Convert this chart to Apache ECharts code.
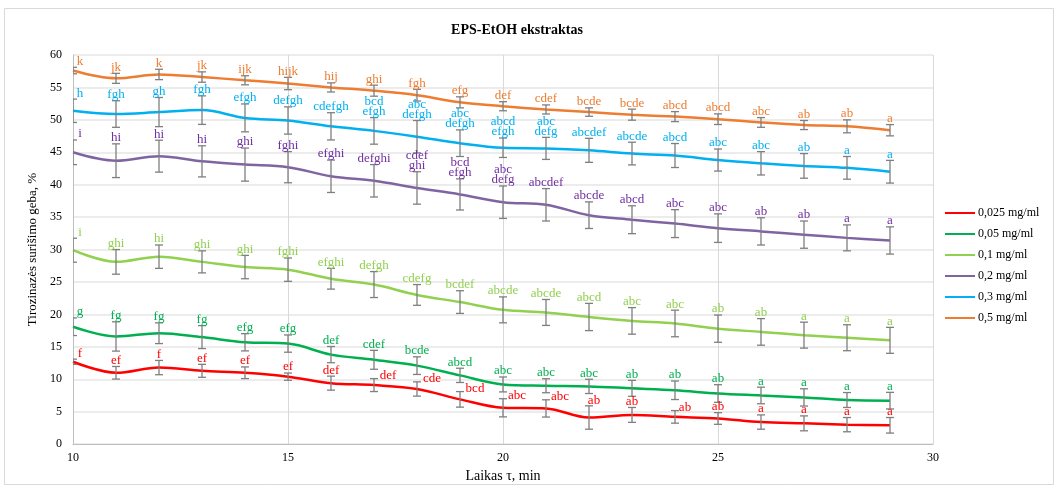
<!DOCTYPE html>
<html>
<head>
<meta charset="utf-8">
<script src="https://cdn.jsdelivr.net/npm/echarts@6/dist/echarts.min.js"></script>
<style>
  html, body { margin: 0; padding: 0; background: #fff; }
  #chart { width: 1058px; height: 488px; }
</style>
</head>
<body>
<div id="chart"></div>
<script>
// Time points (min)
const times = [10, 11, 12, 13, 14, 15, 16, 17, 18, 19, 20, 21, 22, 23, 24, 25, 26, 27, 28, 29];

// Series names (concentrations)
const seriesNames = ['0,025 mg/ml', '0,05 mg/ml', '0,1 mg/ml', '0,2 mg/ml', '0,3 mg/ml', '0,5 mg/ml'];

// Mean binding capacity, %
const c025 = [12.7, 11.0, 11.8, 11.3, 11.0, 10.4, 9.4, 9.1, 8.5, 6.9, 5.6, 5.5, 4.1, 4.5, 4.2, 3.95, 3.4, 3.2, 3.0, 2.9];
const c05  = [18.1, 16.6, 17.1, 16.5, 15.7, 15.5, 13.8, 13.0, 12.1, 10.6, 9.2, 9.0, 8.9, 8.6, 8.3, 7.8, 7.5, 7.2, 6.8, 6.7];
const c1   = [29.9, 28.1, 28.9, 28.1, 27.3, 26.9, 25.5, 24.6, 23.0, 21.9, 20.7, 20.3, 19.6, 19.0, 18.6, 17.8, 17.3, 16.8, 16.4, 16.0];
const c2   = [45.0, 43.7, 44.4, 43.6, 43.1, 42.7, 41.3, 40.6, 39.5, 38.5, 37.3, 36.9, 35.3, 34.6, 34.0, 33.3, 32.8, 32.3, 31.8, 31.4];
const c3   = [51.4, 50.9, 51.2, 51.5, 50.3, 49.9, 49.0, 48.3, 47.4, 46.4, 45.7, 45.6, 45.3, 44.8, 44.5, 43.8, 43.3, 42.9, 42.6, 42.0];
const c5   = [57.6, 56.4, 57.0, 56.6, 56.1, 55.6, 55.0, 54.5, 53.8, 52.7, 52.1, 51.6, 51.2, 50.8, 50.5, 50.1, 49.6, 49.2, 49.0, 48.4];

// Standard deviations (±)
const e025 = [0.4, 0.97, 1.1, 1.0, 0.9, 0.56, 1.08, 1.0, 1.1, 1.2, 1.4, 1.33, 1.8, 1.15, 0.97, 0.9, 1.1, 1.15, 1.1, 1.2];
const e05  = [1.36, 2.26, 1.6, 1.77, 1.33, 1.33, 1.25, 1.46, 1.36, 1.1, 1.15, 1.08, 1.1, 1.23, 1.43, 1.36, 1.28, 1.33, 1.15, 1.28];
const e1   = [1.85, 1.9, 1.8, 1.7, 1.8, 1.8, 1.6, 2.0, 1.6, 1.75, 2.0, 2.0, 2.1, 2.05, 2.05, 2.1, 2.05, 2.0, 2.0, 2.0];
const e2   = [1.9, 2.6, 2.46, 2.4, 2.55, 2.4, 2.5, 2.5, 2.5, 2.4, 2.5, 2.5, 2.05, 2.15, 2.15, 2.2, 2.1, 2.1, 2.0, 2.1];
const e3   = [1.8, 2.05, 2.25, 2.2, 2.15, 2.1, 2.1, 2.05, 2.5, 2.05, 1.5, 1.7, 1.85, 1.75, 1.85, 1.7, 1.8, 1.9, 1.75, 1.75];
const e5   = [0.5, 0.77, 0.8, 0.8, 0.7, 0.95, 0.7, 0.85, 0.9, 0.85, 0.7, 0.7, 0.65, 0.85, 0.77, 0.82, 0.75, 0.7, 1.0, 0.87];

// Significance letters
const g025 = ['f', 'ef', 'f', 'ef', 'ef', 'ef', 'def', 'def', 'cde', 'bcd', 'abc', 'abc', 'ab', 'ab', 'ab', 'ab', 'a', 'a', 'a', 'a'];
const g05  = ['g', 'fg', 'fg', 'fg', 'efg', 'efg', 'def', 'cdef', 'bcde', 'abcd', 'abc', 'abc', 'abc', 'ab', 'ab', 'ab', 'a', 'a', 'a', 'a'];
const g1   = ['i', 'ghi', 'hi', 'ghi', 'ghi', 'fghi', 'efghi', 'defgh', 'cdefg', 'bcdef', 'abcde', 'abcde', 'abcd', 'abc', 'abc', 'ab', 'ab', 'a', 'a', 'a'];
const g2   = ['i', 'hi', 'hi', 'hi', 'ghi', 'fghi', 'efghi', 'defghi', 'cdef\nghi', 'bcd\nefgh', 'abc\ndefg', 'abcdef', 'abcde', 'abcd', 'abc', 'abc', 'ab', 'ab', 'a', 'a'];
const g3   = ['h', 'fgh', 'gh', 'fgh', 'efgh', 'defgh', 'cdefgh', 'bcd\nefgh', 'abc\ndefgh', 'abc\ndefgh', 'abcd\nefgh', 'abc\ndefg', 'abcdef', 'abcde', 'abcd', 'abc', 'abc', 'ab', 'a', 'a'];
const g5   = ['k', 'jk', 'k', 'jk', 'ijk', 'hijk', 'hij', 'ghi', 'fgh', 'efg', 'def', 'cdef', 'bcde', 'bcde', 'abcd', 'abcd', 'abc', 'ab', 'ab', 'a'];

// Axis ranges
const yMin = 0, yMax = 60, yStep = 5;
const xMin = 10, xMax = 30, xStep = 5;

const FONT = "'Liberation Serif', 'Times New Roman', serif";

const groups = [
  { name: seriesNames[0], vals: c025, errs: e025, letters: g025, line: '#ff0000', text: '#ff0000' },
  { name: seriesNames[1], vals: c05,  errs: e05,  letters: g05,  line: '#00b050', text: '#00b050' },
  { name: seriesNames[2], vals: c1,   errs: e1,   letters: g1,   line: '#92d050', text: '#92d050' },
  { name: seriesNames[3], vals: c2,   errs: e2,   letters: g2,   line: '#8064a2', text: '#7030a0' },
  { name: seriesNames[4], vals: c3,   errs: e3,   letters: g3,   line: '#00b0f0', text: '#00b0f0' },
  { name: seriesNames[5], vals: c5,   errs: e5,   letters: g5,   line: '#ed7d31', text: '#ed7d31' }
];

// Per-label pixel nudges [dx, dy] for letters placed beside their bars
const labelNudge = {
  0: { 7: [14, 3], 8: [15, 3], 9: [15, 3], 10: [14, 3], 11: [14, 3], 12: [5, 1], 14: [10, 3] }
};
const firstPointShift = 7;

const series = [];
groups.forEach((g, gi) => {
  const pts = times.map((t, i) => [t, g.vals[i], g.errs[i]]);
  series.push({
    name: g.name,
    type: 'line',
    data: times.map((t, i) => [t, g.vals[i]]),
    smooth: 0.35,
    symbol: 'none',
    lineStyle: { color: g.line, width: 2.5 },
    itemStyle: { color: g.line },
    z: 3
  });
  // error bars
  series.push({
    type: 'custom',
    data: pts,
    clip: true,
    silent: true,
    z: 4,
    renderItem: (params, api) => {
      const x = api.value(0), y = api.value(1), e = api.value(2);
      const pt = api.coord([x, y + e]);
      const pb = api.coord([x, y - e]);
      const cap = 4;
      const st = { stroke: '#7f7f7f', lineWidth: 1.3 };
      return {
        type: 'group',
        children: [
          { type: 'line', shape: { x1: pt[0], y1: pt[1], x2: pb[0], y2: pb[1] }, style: st },
          { type: 'line', shape: { x1: pt[0] - cap, y1: pt[1], x2: pt[0] + cap, y2: pt[1] }, style: st },
          { type: 'line', shape: { x1: pb[0] - cap, y1: pb[1], x2: pb[0] + cap, y2: pb[1] }, style: st }
        ]
      };
    }
  });
  // significance letters above bars
  series.push({
    type: 'custom',
    data: pts,
    clip: false,
    silent: true,
    z: 5,
    renderItem: (params, api) => {
      const i = params.dataIndex;
      const x = api.value(0), y = api.value(1), e = api.value(2);
      const p = api.coord([x, y + e]);
      let dx = i === 0 ? firstPointShift : 0, dy = 0;
      const n = labelNudge[gi] && labelNudge[gi][i];
      if (n) { dx = n[0]; dy = n[1]; }
      return {
        type: 'text',
        x: p[0] + dx,
        y: p[1] - 1 + dy,
        style: {
          text: g.letters[i],
          fill: g.text,
          font: '13px ' + FONT,
          align: 'center',
          verticalAlign: 'bottom',
          lineHeight: 10
        }
      };
    }
  });
});

const chart = echarts.init(document.getElementById('chart'), null, { renderer: 'canvas' });
chart.setOption({
  animation: false,
  backgroundColor: '#ffffff',
  textStyle: { fontFamily: FONT },
  graphic: [
    {
      type: 'rect',
      shape: { x: 4.5, y: 8.5, width: 1049, height: 476 },
      style: { fill: 'none', stroke: '#d9d9d9', lineWidth: 1 },
      z: -10
    },
    {
      type: 'text',
      x: 517, y: 30,
      style: {
        text: 'EPS-EtOH ekstraktas',
        font: 'bold 14px ' + FONT,
        fill: '#000',
        align: 'center',
        verticalAlign: 'middle'
      }
    }
  ],
  grid: { left: 73, right: 125, top: 55, bottom: 43, containLabel: false },
  legend: {
    orient: 'vertical',
    left: 940,
    top: 202,
    itemWidth: 30,
    itemHeight: 14,
    itemGap: 9,
    data: seriesNames,
    textStyle: { fontFamily: FONT, fontSize: 12, color: '#000', padding: [0, 0, 0, -2] },
    icon: 'path://M0,6 L30,6 L30,8 L0,8 Z'
  },
  xAxis: {
    type: 'value',
    min: xMin, max: xMax, interval: xStep,
    name: 'Laikas τ, min',
    nameLocation: 'middle',
    nameGap: 24,
    nameTextStyle: { fontFamily: FONT, fontSize: 14, color: '#000' },
    axisLine: { show: true, lineStyle: { color: '#bfbfbf' } },
    axisTick: { show: false },
    axisLabel: { fontFamily: FONT, fontSize: 12, color: '#000', margin: 8 },
    splitLine: { show: true, lineStyle: { color: '#d9d9d9', width: 1 } }
  },
  yAxis: {
    type: 'value',
    min: yMin, max: yMax, interval: yStep,
    name: 'Tirozinazės surišimo geba, %',
    nameLocation: 'middle',
    nameGap: 34,
    nameRotate: 90,
    nameTextStyle: { fontFamily: FONT, fontSize: 13, color: '#000' },
    axisLine: { show: true, lineStyle: { color: '#bfbfbf' } },
    axisTick: { show: false },
    axisLabel: { fontFamily: FONT, fontSize: 12, color: '#000', margin: 11 },
    splitLine: { show: true, lineStyle: { color: '#e6e6e6', width: 1.5 } }
  },
  series: series
});
</script>
</body>
</html>
